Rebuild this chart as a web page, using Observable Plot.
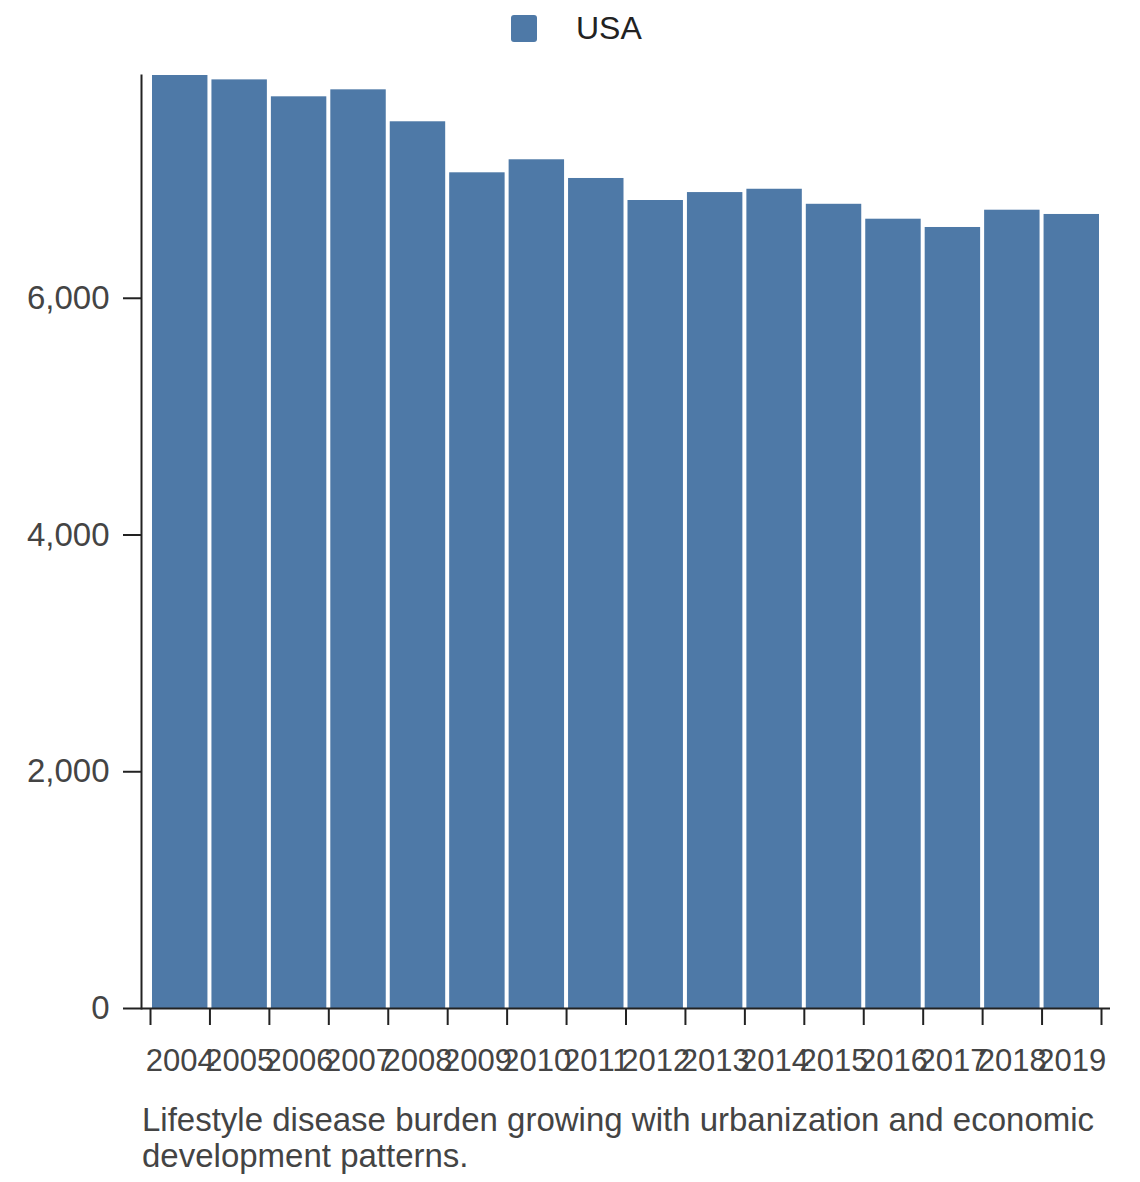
<!DOCTYPE html>
<html>
<head>
<meta charset="utf-8">
<script src="https://cdn.jsdelivr.net/npm/d3@7"></script>
<script src="https://cdn.jsdelivr.net/npm/@observablehq/plot@0.6"></script>
<style>
  html, body { margin: 0; padding: 0; background: #fff; }
  body { width: 1140px; height: 1182px; position: relative; font-family: "Liberation Sans", Arial, Helvetica, sans-serif; }
  #legend { position: absolute; top: 0; left: 0; width: 1140px; height: 60px; }
  #legend .swatch { position: absolute; left: 511px; top: 15px; width: 26px; height: 27px; border-radius: 3px; background: #4e79a7; }
  #legend .label { position: absolute; left: 576px; top: 8px; font-size: 32px; line-height: 40px; color: #222; }
  #chart { position: absolute; top: 0; left: 0; }
  #caption { position: absolute; left: 142px; top: 1102px; width: 990px; font-size: 33px; line-height: 36px; color: #444; }
</style>
</head>
<body>
<div id="chart"></div>
<div id="legend"><div class="swatch"></div><div class="label">USA</div></div>
<div id="caption">Lifestyle disease burden growing with urbanization and economic development patterns.</div>
<script>
const years = [2004, 2005, 2006, 2007, 2008, 2009, 2010, 2011, 2012, 2013, 2014, 2015, 2016, 2017, 2018, 2019];
const values = [7882, 7845, 7702, 7761, 7491, 7060, 7170, 7012, 6826, 6893, 6921, 6794, 6668, 6598, 6744, 6708];
const yTicks = [0, 2000, 4000, 6000];
const seriesName = "USA";

const data = years.map((year, i) => ({year, value: values[i], country: seriesName}));
const edges = [...years, years[years.length - 1] + 1];

const chart = Plot.plot({
  width: 1140,
  height: 1095,
  marginTop: 75,
  marginBottom: 87,
  marginLeft: 141,
  marginRight: 30,
  style: {fontFamily: '"Liberation Sans", Arial, Helvetica, sans-serif', background: "#fff"},
  x: {type: "linear", domain: [years[0], years[years.length - 1] + 1], insetLeft: 9, insetRight: 9},
  y: {domain: [0, d3.max(values)]},
  marks: [
    Plot.rectY(data, {x: "year", y: "value", interval: 1, fill: "#4e79a7", insetLeft: 2, insetRight: 2}),
    Plot.frame({anchor: "left", stroke: "#222", strokeWidth: 2}),
    Plot.ruleY([0], {stroke: "#222", strokeWidth: 2}),
    Plot.axisY({ticks: yTicks, tickSize: 18, tickPadding: 14, fontSize: 33, fill: "#444", stroke: "#222", strokeWidth: 2, label: null}),
    Plot.axisX({ticks: edges, tickSize: 17, tickFormat: () => "", stroke: "#222", strokeWidth: 2, label: null}),
    Plot.axisX({ticks: years.map(y => y + 0.5), tickFormat: d => String(d - 0.5), tickSize: 0, tickPadding: 40, fontSize: 31, fill: "#444", label: null})
  ]
});
document.getElementById("chart").appendChild(chart);
</script>
</body>
</html>
